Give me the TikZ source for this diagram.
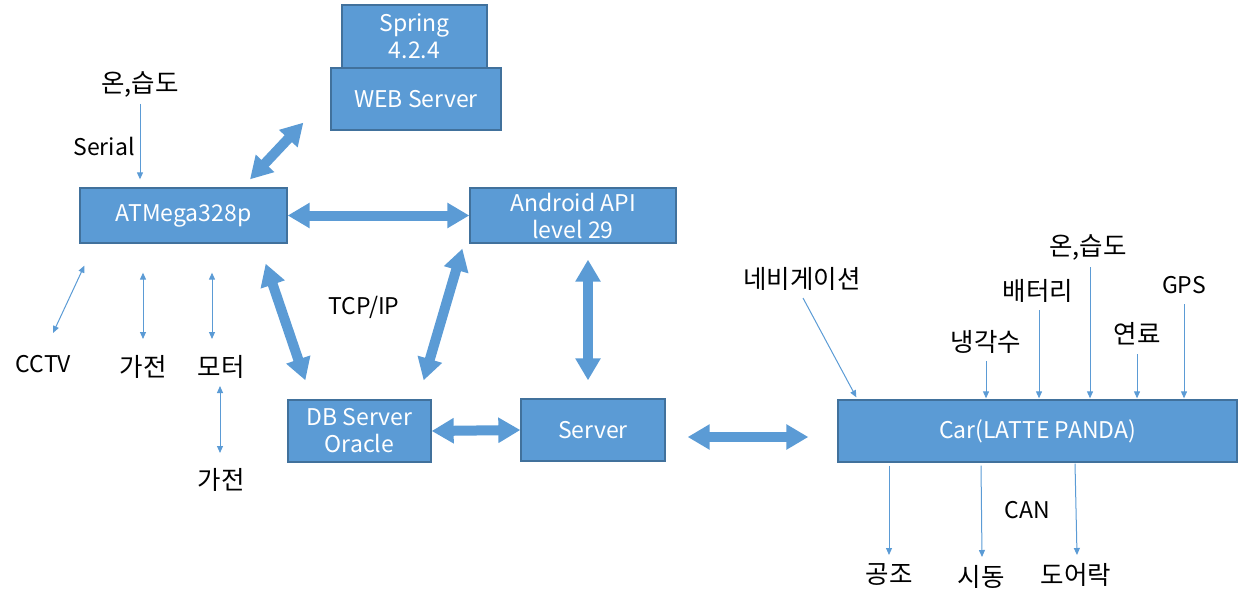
\documentclass[tikz,border=0pt]{standalone}
\usepackage{fontspec}
\setmainfont{Noto Sans CJK KR}
\usetikzlibrary{arrows.meta,calc}
\definecolor{boxfill}{HTML}{5B9BD5}
\definecolor{boxline}{HTML}{41719C}
\tikzset{
	blk/.style={draw=boxline, line width=1.3pt, fill=boxfill, text=white, align=center, inner sep=0pt, font=\fontsize{23}{27}\selectfont},
	lbl/.style={inner sep=0pt, font=\fontsize{23}{27}\selectfont},
	krlbl/.style={inner sep=0pt, font=\fontsize{25.5}{30}\selectfont},
	fat/.style={draw=boxfill, line width=10pt, {Triangle[length=22pt,width=24pt]}-{Triangle[length=22pt,width=24pt]}},
	wire/.style={draw=boxfill, line width=1pt, -{Triangle[length=7pt,width=6pt]}},
	wires/.style={draw=boxfill, line width=1pt, {Triangle[length=7pt,width=6pt]}-{Triangle[length=7pt,width=6pt]}}
}
\begin{document}
\begin{tikzpicture}[x=1pt, y=-1pt]
			%%%%% START %%%%%
			\useasboundingbox (0, 0) rectangle (1238, 607);
			
			\node[blk, minimum width=145pt, minimum height=63pt] (spring) at (414.5, 36.5) {Spring\\4.2.4};
			\node[blk, minimum width=170pt, minimum height=62pt] (web) at (416, 99) {WEB Server};
			\node[blk, minimum width=207pt, minimum height=55pt] (atmega) at (183.5, 215.5) {ATMega328p};
			\node[blk, minimum width=206pt, minimum height=55pt] (android) at (573, 215.5) {Android API\\level 29};
			\node[blk, minimum width=143pt, minimum height=62pt] (db) at (359.5, 431) {DB Server\\Oracle};
			\node[blk, minimum width=144pt, minimum height=62pt] (server) at (593, 430) {Server};
			\node[blk, minimum width=399pt, minimum height=62pt] (car) at (1037.5, 431) {Car(LATTE PANDA)};
			
			\draw[fat] ($(atmega.north)+(66.5,-8)$) -- ($(web.south west)+(-27,-8)$);
			\draw[fat] (atmega.east) -- (android.west);
			\draw[fat] ($(atmega.south east)+(-22,20)$) -- ($(db.north west)+(18,-19)$);
			\draw[fat] ($(android.south west)+(-7,5)$) -- ($(db.north east)+(-8,-19)$);
			\draw[fat] ($(android.south)+(15,16)$) -- ($(server.north)+(-5,-18)$);
			\draw[fat] (db.east) -- (server.west);
			\draw[fat] ($(server.east)+(22,7)$) -- ($(car.west)+(-29,6)$);
			
			\node[krlbl] (humL) at (140, 85) {온,습도};
			\node[lbl] (serial) at (104, 146) {Serial};
			\node[lbl] (cctv) at (43.5, 364) {CCTV};
			\node[krlbl] (gaA) at (143, 367) {가전};
			\node[krlbl] (motor) at (221, 367) {모터};
			\node[krlbl] (gaB) at (221, 480) {가전};
			\node[lbl] (tcp) at (364, 307) {TCP/IP};
			
			\draw[wire] ($(humL.center)+(0,19)$) -- ($(humL.center |- atmega.north)+(0,-8)$);
			\draw[wires] ($(atmega.south west)+(5,22)$) -- ($(cctv.center)+(9.5,-31)$);
			\draw[wires] ($(gaA.center |- atmega.south)+(0,29)$) -- ($(gaA.center)+(0,-28)$);
			\draw[wires] ($(motor.center |- atmega.south)+(-9,29)$) -- ($(motor.center)+(-9,-28)$);
			\draw[wires] ($(motor.center)+(-1,19)$) -- ($(gaB.center)+(-1,-27)$);
			
			\node[krlbl] (nav) at (802, 279) {네비게이션};
			\node[krlbl] (cool) at (986, 342) {냉각수};
			\node[krlbl] (batt) at (1038, 291) {배터리};
			\node[krlbl] (humR) at (1088, 248) {온,습도};
			\node[krlbl] (fuel) at (1137, 334) {연료};
			\node[lbl] (gps) at (1184, 285) {GPS};
			
			\draw[wire] ($(nav.center)+(1,19)$) -- ($(car.north west)+(19,-2)$);
			\draw[wire] ($(cool.center)+(0,19)$) -- ($(cool.center |- car.north)+(0,-1)$);
			\draw[wire] ($(batt.center)+(1,19)$) -- ($(batt.center |- car.north)+(1,-1)$);
			\draw[wire] ($(humR.center)+(2,19)$) -- ($(humR.center |- car.north)+(2,-1)$);
			\draw[wire] ($(fuel.center)+(0,20)$) -- ($(fuel.center |- car.north)+(0,-1)$);
			\draw[wire] ($(gps.center)+(0,19)$) -- ($(gps.center |- car.north)+(0,-1)$);
			
			\node[lbl] (can) at (1027, 510) {CAN};
			\node[krlbl] (aircon) at (889, 575) {공조};
			\node[krlbl] (ignite) at (981, 577) {시동};
			\node[krlbl] (door) at (1076, 575) {도어락};
			
			\draw[wire] ($(aircon.center |- car.south)+(0,3)$) -- ($(aircon.center)+(0,-20)$);
			\draw[wire] ($(ignite.center |- car.south)+(0,3)$) -- ($(ignite.center)+(1,-20)$);
			\draw[wire] ($(door.center |- car.south)+(-1,1)$) -- ($(door.center)+(1,-20)$);
			
			%%%%% END %%%%%
\end{tikzpicture}
\end{document}
